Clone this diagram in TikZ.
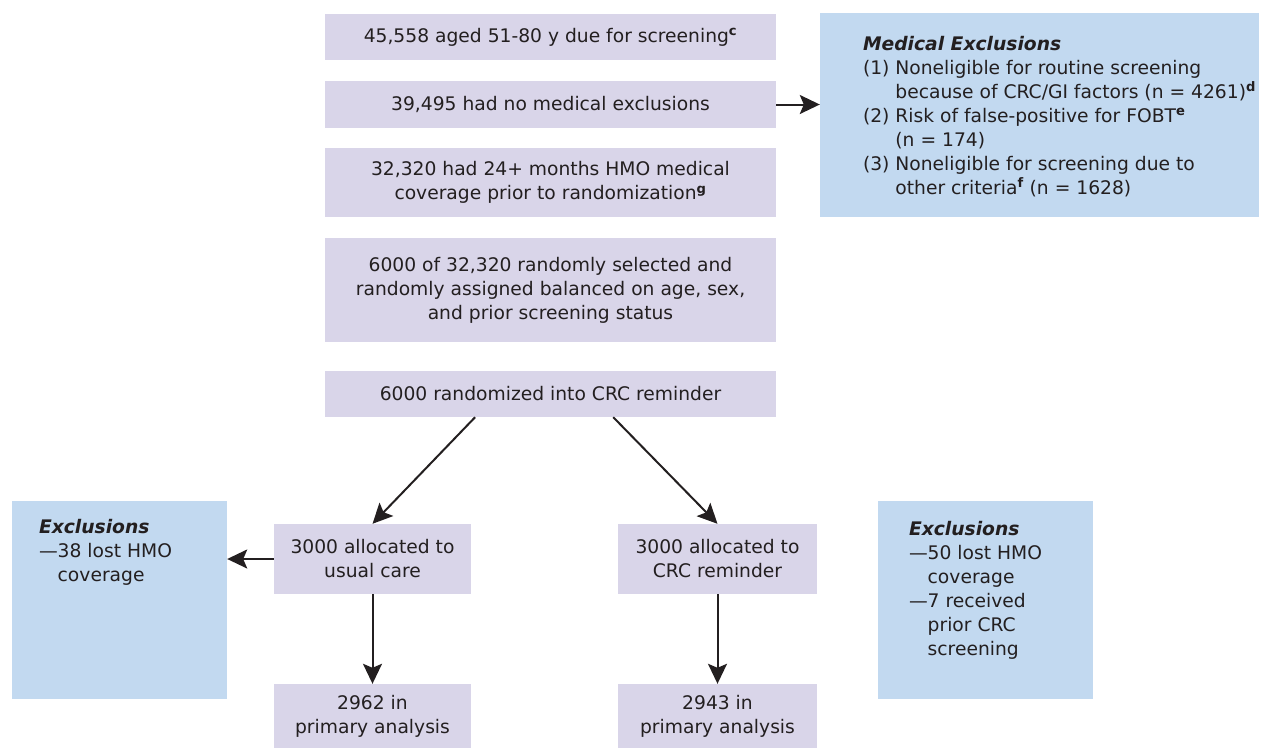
\documentclass[tikz,border=0pt]{standalone}
\usepackage{fontspec}
\setmainfont{DejaVu Sans}
\usepackage{tikz}
\usetikzlibrary{arrows.meta,calc,positioning}
\definecolor{boxlav}{RGB}{217,213,233}
\definecolor{boxblue}{RGB}{194,217,240}
\definecolor{inkdark}{RGB}{35,31,32}
\newcommand{\supb}[1]{\textsuperscript{\bfseries #1}}

\begin{document}
\begin{tikzpicture}[x=1pt,y=-1pt]
\tikzstyle{every node}+=[inner sep=0pt,text=inkdark,font=\fontsize{18.7}{24}\selectfont]
\tikzstyle{pbox}=[fill=boxlav,align=center]
\tikzstyle{bbox}=[fill=boxblue]
\tikzstyle{flow}=[draw=inkdark,line width=2pt,-{Stealth[length=20pt,width=19pt,inset=4pt]}]
\useasboundingbox (0,0) rectangle (1261,750);
% main column
\node [pbox,minimum width=451pt,minimum height=46pt] (screen) at (550.5,37) {45,558 aged 51-80 y due for screening\supb{c}};
\node [pbox,minimum width=451pt,minimum height=47pt] (nomed) at (550.5,104.5) {39,495 had no medical exclusions};
\node [pbox,minimum width=451pt,minimum height=69pt] (cover) at (550.5,182.5) {32,320 had 24+ months HMO medical\\coverage prior to randomization\supb{g}};
\node [pbox,minimum width=451pt,minimum height=104pt] (select) at (550.5,290) {6000 of 32,320 randomly selected and\\randomly assigned balanced on age, sex,\\and prior screening status};
\node [pbox,minimum width=451pt,minimum height=46pt] (rand) at (550.5,394) {6000 randomized into CRC reminder};
% medical exclusions
\node [bbox,minimum width=439pt,minimum height=204pt] (medex) at (1039.5,115) {};
\node [anchor=north west] (medtext) at ($(medex.north west)+(43,20.2)$) {\begin{tabular}{@{}l@{ }l@{}}
\multicolumn{2}{@{}l@{}}{\bfseries\itshape Medical Exclusions}\\
(1) & Noneligible for routine screening\\
 & because of CRC/GI factors (n = 4261)\supb{d}\\
(2) & Risk of false-positive for FOBT\supb{e}\\
 & (n = 174)\\
(3) & Noneligible for screening due to\\
 & other criteria\supb{f} (n = 1628)
\end{tabular}};
% arms
\node [pbox,minimum width=197pt,minimum height=70pt] (usual) at (372.5,559) {3000 allocated to\\usual care};
\node [pbox,minimum width=197pt,minimum height=64pt] (prim1) at (372.5,716) {2962 in\\primary analysis};
\node [pbox,minimum width=199pt,minimum height=70pt] (crc) at (717.5,559) {3000 allocated to\\CRC reminder};
\node [pbox,minimum width=199pt,minimum height=64pt] (prim2) at (717.5,716) {2943 in\\primary analysis};
% arm exclusions
\node [bbox,minimum width=215pt,minimum height=198pt] (exclL) at (119.5,600) {};
\node [anchor=north west] (exclLtext) at ($(exclL.north west)+(27,16)$) {\begin{tabular}{@{}l@{}l@{}}
\multicolumn{2}{@{}l@{}}{\bfseries\itshape Exclusions}\\
---& 38 lost HMO\\
 & coverage
\end{tabular}};
\node [bbox,minimum width=215pt,minimum height=198pt] (exclR) at (985.5,600) {};
\node [anchor=north west] (exclRtext) at ($(exclR.north west)+(31,18)$) {\begin{tabular}{@{}l@{}l@{}}
\multicolumn{2}{@{}l@{}}{\bfseries\itshape Exclusions}\\
---& 50 lost HMO\\
 & coverage\\
---& 7 received\\
 & prior CRC\\
 & screening
\end{tabular}};
% connectors
\draw [flow] (nomed.east) -- (nomed.east -| medex.west);
\draw [flow] ($(rand.south west)!0.333!(rand.south east)$) -- (usual.north);
\draw [flow] ($(rand.south west)!0.639!(rand.south east)$) -- (crc.north);
\draw [flow] (usual.west) -- (usual.west -| exclL.east);
\draw [flow] (usual.south) -- (prim1.north);
\draw [flow] (crc.south) -- (prim2.north);
\end{tikzpicture}
\end{document}
